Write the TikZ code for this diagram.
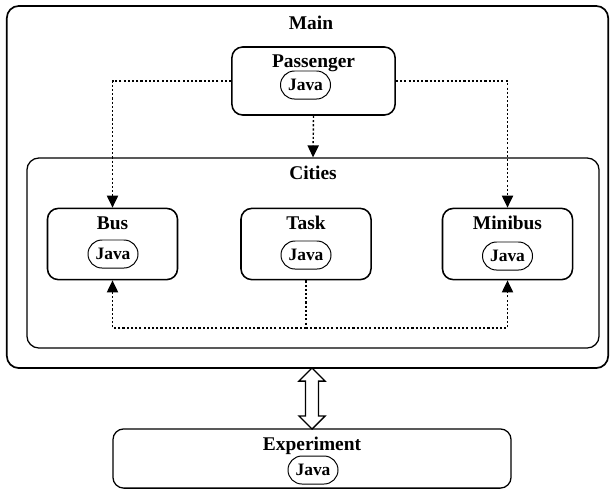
\documentclass[tikz,border=0pt]{standalone}
\usepackage{fontspec}
\setmainfont{Liberation Serif}
\usetikzlibrary{arrows.meta,shapes.misc,shapes.arrows}
\begin{document}
\begin{tikzpicture}[x=0.025cm, y=-0.025cm,
    box/.style={draw, rounded corners=0.27cm, line width=1.1pt, inner sep=0pt},
    title/.style={font=\fontsize{13.8}{16}\selectfont\bfseries, inner sep=0pt, anchor=base},
    pill/.style={draw, rounded rectangle, line width=0.7pt, minimum width=1.25cm,
        minimum height=0.7cm, inner sep=0pt, font=\fontsize{12.4}{14}\selectfont\bfseries},
    link/.style={line width=1pt, dash pattern=on 1.5pt off 1.5pt,
        -{Triangle[length=0.3cm, width=0.28cm]}},
    dbl/.style={draw, double arrow, line width=0.9pt, inner sep=0pt, text height=0.29cm,
        text depth=0pt, double arrow head extend=0.165cm, double arrow tip angle=90}]

    \useasboundingbox (0,0) rectangle (615,489);

    \node[box, line width=1.2pt, rounded corners=0.3cm, minimum width=15.03cm, minimum height=9.05cm] (main) at (307.5,187) {};
    \node[title] (maintitle) at (311,29) {Main};

    \node[box, minimum width=4.08cm, minimum height=1.7cm] (passenger) at (313.5,81) {};
    \node[title] (passengertitle) at (313.5,67) {Passenger};
    \node[pill] (passengerjava) at (305.5,85) {Java};

    \node[box, line width=0.9pt, rounded corners=0.3cm, minimum width=14.3cm, minimum height=4.75cm] (cities) at (313,253) {};
    \node[title] (citiestitle) at (313,179) {Cities};

    \node[box, minimum width=3.25cm, minimum height=1.78cm] (bus) at (112.5,244) {};
    \node[title] (bustitle) at (112.5,229) {Bus};
    \node[pill] (busjava) at (113,254) {Java};

    \node[box, minimum width=3.25cm, minimum height=1.78cm] (task) at (306,244) {};
    \node[title] (tasktitle) at (306,229) {Task};
    \node[pill] (taskjava) at (306,255) {Java};

    \node[box, minimum width=3.25cm, minimum height=1.78cm] (minibus) at (507.5,244) {};
    \node[title] (minibustitle) at (507.5,229) {Minibus};
    \node[pill] (minibusjava) at (507.5,256) {Java};

    \node[box, line width=0.9pt, minimum width=9.95cm, minimum height=1.48cm] (experiment) at (312,458.5) {};
    \node[title] (experimenttitle) at (312,450) {Experiment};
    \node[pill] (experimentjava) at (313,470) {Java};

    \coordinate (split) at (306,328);

    \draw[link] (passenger.west) -| (bus.north);
    \draw[link] (passenger.east) -| (minibus.north);
    \draw[link] (passenger.south) -- (cities.north);
    \draw[link, -] (task.south) -- (split);
    \draw[link] (split) -| (bus.south);
    \draw[link] (split) -| (minibus.south);

    \path (main.south -| experiment.north) -- (experiment.north)
        node[dbl, midway, sloped, minimum height=1.525cm] (link) {};

\end{tikzpicture}
\end{document}
